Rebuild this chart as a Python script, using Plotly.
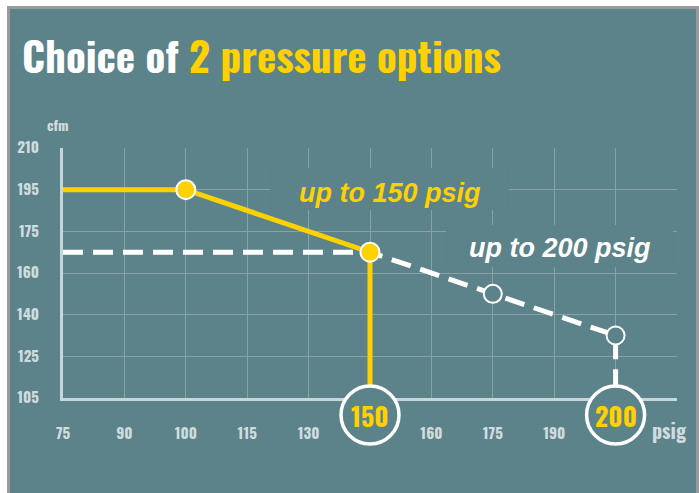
import numpy as np
import plotly.graph_objects as go

# ---- data ----
psig_ticks = [75, 90, 100, 115, 130, 150, 160, 175, 190, 200]
cfm_ticks = [105, 125, 140, 160, 175, 195, 210]

opt150_psig = [75, 100, 150, 150]
opt150_cfm = [195, 195, 167.5, 105]

opt200_psig = [75, 150, 175, 200, 200]
opt200_cfm = [167.5, 167.5, 150, 132.5, 105]

dot150_psig = [100, 150]
dot150_cfm = [195, 167.5]
dot200_psig = [175, 200]
dot200_cfm = [150, 132.5]

badges = [150, 200]
label150 = "up to 150 psig"
label200 = "up to 200 psig"

# ---- style ----
TEAL = "#5c828a"
YELLOW = "#ffd100"
LIGHT = "#cfdcdf"
GRID = "#87a3a9"
COND = "Oswald, Roboto Condensed, sans-serif"
SANS = "Liberation Sans, Arial, sans-serif"

W, H = 699, 493
ML, MR, MT, MB = 63, 22, 148, 95


def xpos(v):
    return np.interp(v, psig_ticks, np.arange(len(psig_ticks)))


def ypos(v):
    return np.interp(v, cfm_ticks, np.arange(len(cfm_ticks)))


pw = W - ML - MR
ph = H - MT - MB


def px_x(p):
    return (p - ML) / pw


def px_y(p):
    return (H - MB - p) / ph


fig = go.Figure()

fig.add_trace(go.Scatter(
    x=xpos(opt200_psig), y=ypos(opt200_cfm), mode="lines",
    line=dict(color="white", width=5, dash="20px,10px"),
    hoverinfo="skip", showlegend=False))
fig.add_trace(go.Scatter(
    x=xpos(opt150_psig), y=ypos(opt150_cfm), mode="lines",
    line=dict(color=YELLOW, width=5),
    hoverinfo="skip", showlegend=False))
fig.add_trace(go.Scatter(
    x=xpos(dot200_psig), y=ypos(dot200_cfm), mode="markers",
    marker=dict(size=18, color=TEAL, line=dict(color="white", width=2)),
    hoverinfo="skip", showlegend=False))
fig.add_trace(go.Scatter(
    x=xpos(dot150_psig), y=ypos(dot150_cfm), mode="markers",
    marker=dict(size=19, color=YELLOW, line=dict(color="white", width=2)),
    hoverinfo="skip", showlegend=False))

shapes = []
# frame
shapes.append(dict(type="rect", xref="paper", yref="paper", layer="below",
                   x0=px_x(8.5), x1=px_x(697.5), y0=px_y(H + 10), y1=px_y(7.5),
                   fillcolor=TEAL, line=dict(color="#9a9a9a", width=3)))
# masks behind labels
shapes.append(dict(type="rect", xref="x", yref="y", layer="between",
                   x0=3.38, x1=7.26, y0=4.51, y1=5.52,
                   fillcolor=TEAL, line=dict(width=0)))
shapes.append(dict(type="rect", xref="x", yref="y", layer="between",
                   x0=6.24, x1=9.93, y0=3.14, y1=4.15,
                   fillcolor=TEAL, line=dict(width=0)))

annotations = []
badge_y = px_y(415)
for b in badges:
    bx = float(xpos(b))
    shapes.append(dict(type="circle", xref="x", yref="paper", layer="above",
                       xsizemode="pixel", ysizemode="pixel",
                       xanchor=bx, yanchor=badge_y,
                       x0=-29, x1=29, y0=-29, y1=29,
                       fillcolor=TEAL, line=dict(color="white", width=3.5)))
    annotations.append(dict(x=bx, y=badge_y, xref="x", yref="paper",
                            text=str(b), showarrow=False,
                            xanchor="center", yanchor="middle",
                            font=dict(family=COND, size=26, color=YELLOW, weight="bold")))

annotations += [
    dict(x=px_x(20), y=px_y(54), xref="paper", yref="paper", showarrow=False,
         xanchor="left", yanchor="middle",
         text="Choice of <span style='color:%s'>2 pressure options</span>" % YELLOW,
         font=dict(family=COND, size=41, color="white", weight="bold")),
    dict(x=px_x(58), y=px_y(125), xref="paper", yref="paper", showarrow=False,
         xanchor="center", yanchor="middle", text="cfm",
         font=dict(family=COND, size=14, color=LIGHT, weight="bold")),
    dict(x=px_x(669), y=px_y(430), xref="paper", yref="paper", showarrow=False,
         xanchor="center", yanchor="middle", text="psig",
         font=dict(family=COND, size=20, color=LIGHT, weight="bold")),
    dict(x=px_x(390), y=px_y(193), xref="paper", yref="paper", showarrow=False,
         xanchor="center", yanchor="middle", text="<i>%s</i>" % label150,
         font=dict(family=SANS, size=27, color=YELLOW, weight="bold")),
    dict(x=px_x(560), y=px_y(248), xref="paper", yref="paper", showarrow=False,
         xanchor="center", yanchor="middle", text="<i>%s</i>" % label200,
         font=dict(family=SANS, size=27, color="white", weight="bold")),
]

xt_text = [str(v) if v not in badges else "" for v in psig_ticks] + [""]
fig.update_layout(
    width=W, height=H,
    margin=dict(l=ML, r=MR, t=MT, b=MB, autoexpand=False),
    paper_bgcolor="white", plot_bgcolor="rgba(0,0,0,0)",
    shapes=shapes, annotations=annotations,
    xaxis=dict(range=[0, len(psig_ticks)], tickmode="array",
               tickvals=list(range(len(psig_ticks) + 1)), ticktext=xt_text,
               showgrid=True, gridcolor=GRID, gridwidth=1, zeroline=False,
               showline=True, linecolor="#c9d6d9", linewidth=3,
               ticks="", ticklabelstandoff=20,
               tickfont=dict(family=COND, size=15, color=LIGHT, weight="bold"),
               fixedrange=True),
    yaxis=dict(range=[0, len(cfm_ticks) - 1], tickmode="array",
               tickvals=list(range(len(cfm_ticks))), ticktext=[str(v) for v in cfm_ticks],
               showgrid=True, gridcolor=GRID, gridwidth=1, zeroline=False,
               showline=True, linecolor="#c9d6d9", linewidth=3,
               ticks="", ticklabelstandoff=18,
               tickfont=dict(family=COND, size=15, color=LIGHT, weight="bold"),
               fixedrange=True),
)

fig.write_html("out.html", config={"displayModeBar": False},
               post_script="document.body.style.margin='0';")
